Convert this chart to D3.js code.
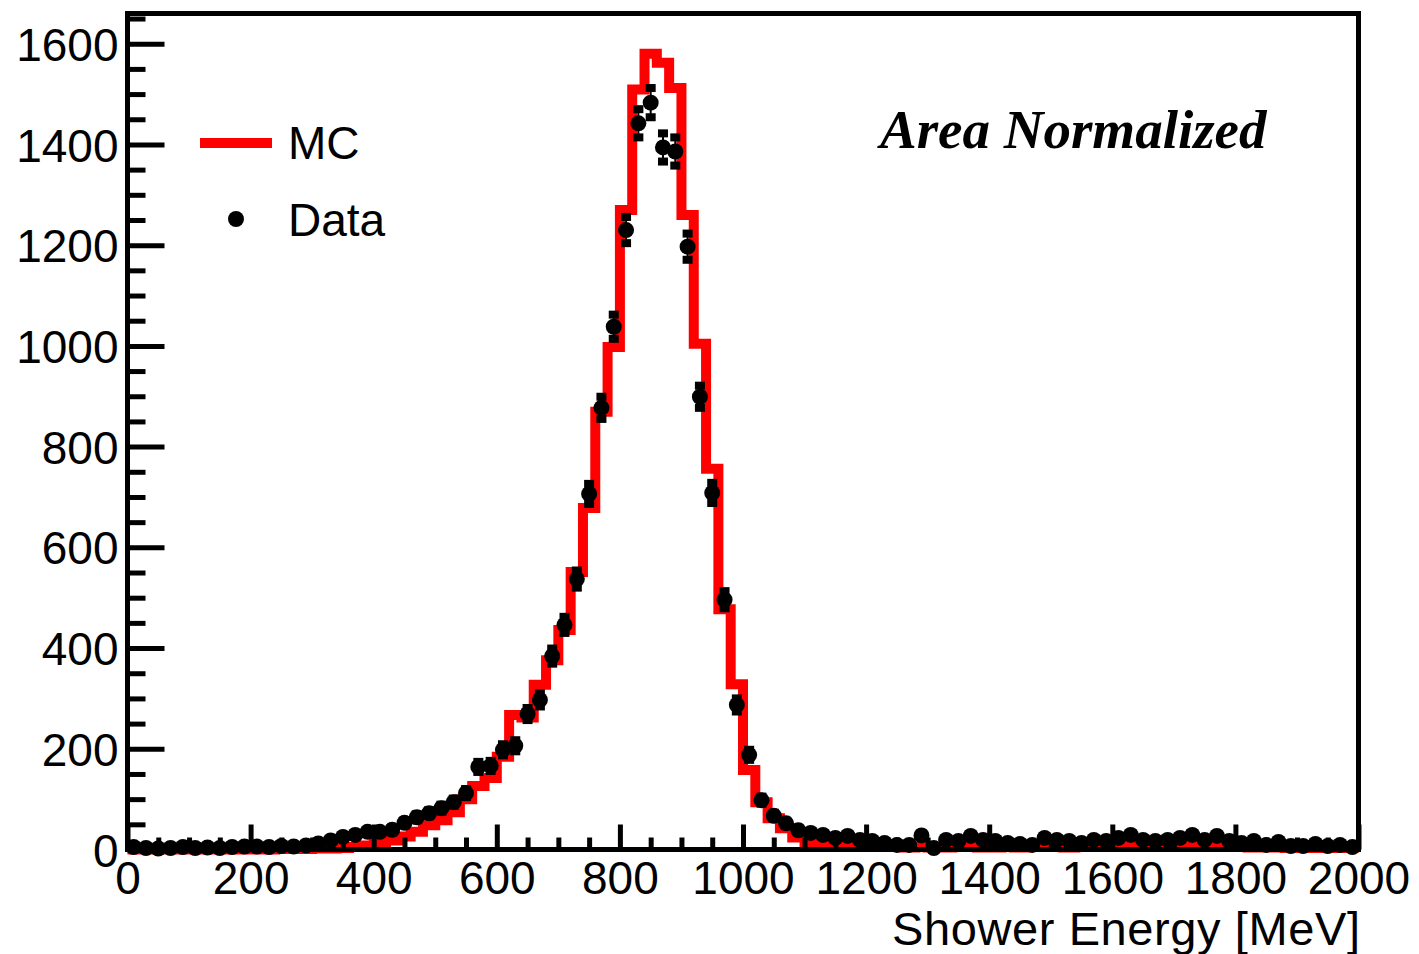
<!DOCTYPE html>
<html>
<head>
<meta charset="utf-8">
<script src="https://cdn.jsdelivr.net/npm/d3@7"></script>
<style>
  html, body { margin: 0; padding: 0; background: #fff; }
  svg { display: block; }
</style>
</head>
<body>
<svg id="chart" width="1419" height="954"></svg>
<script>
// ---------------- data ----------------
// lower edges of the 20 MeV bins
const binLow = [0,20,40,60,80,100,120,140,160,180,200,220,240,260,280,300,320,340,360,380,
  400,420,440,460,480,500,520,540,560,580,600,620,640,660,680,700,720,740,760,780,
  800,820,840,860,880,900,920,940,960,980,1000,1020,1040,1060,1080,1100,1120,1140,1160,1180,
  1200,1220,1240,1260,1280,1300,1320,1340,1360,1380,1400,1420,1440,1460,1480,1500,1520,1540,1560,1580,
  1600,1620,1640,1660,1680,1700,1720,1740,1760,1780,1800,1820,1840,1860,1880,1900,1920,1940,1960,1980];
const binWidth = 20;

// MC histogram contents (area normalized)
const mcValues = [0,0,0,0,0,0,0,0,0,0, 0,0,1,1,1,2,2,3,5,8,
  14,18,26,35,48,58,74,100,126,142, 184,267,262,327,376,436,551,678,869,998,
  1270,1509,1580,1562,1512,1260,1004,756,477,328, 158,94,62,42,24,14,10,9,10,9,
  6,5,5,4,5,4,4,5,5,4, 4,5,4,5,6,5,4,5,6,6, 6,9,8,6,7,8,7,6,6,5, 5,4,4,4,3,3,3,3,3,3];

// Data points and their errors
const dataValues = [5,3,2,3,5,3,4,3,5,6, 6,5,7,6,8,12,18,25,29,35,
  35,39,53,64,72,82,94,112,164,166, 198,206,269,297,384,446,537,706,877,1038,
  1230,1442,1483,1394,1386,1197,899,708,496,287, 188,98,67,52,38,33,29,23,27,19,
  17,13,9,9,28,3,19,17,27,19, 17,13,11,9,23,19,17,13,19,17,
  23,29,19,17,19,23,29,19,27,17, 13,17,9,15,7,7,11,7,9,5];
const dataErrors = [2,1,1,1,2,1,2,1,2,2, 2,2,2,2,2,3,3,4,4,4,
  4,5,5,6,6,7,7,8,10,10, 11,11,12,13,15,16,17,20,22,24,
  26,28,29,28,28,26,22,20,17,13, 10,7,6,5,5,4,4,4,4,3,
  3,3,2,2,4,1,3,3,4,3, 3,3,2,2,4,3,3,3,3,3,
  4,4,3,3,3,4,4,3,4,3, 3,3,2,3,2,2,2,2,2,2];

const xMajorTicks = [0,200,400,600,800,1000,1200,1400,1600,1800,2000];
const yMajorTicks = [0,200,400,600,800,1000,1200,1400,1600];
const xMinorTicks = [50,100,150,250,300,350,450,500,550,650,700,750,850,900,950,1050,1100,1150,
  1250,1300,1350,1450,1500,1550,1650,1700,1750,1850,1900,1950];
const yMinorTicks = [50,100,150,250,300,350,450,500,550,650,700,750,850,900,950,1050,1100,1150,
  1250,1300,1350,1450,1500,1550,1650];

const xTitle = "Shower Energy [MeV]";
const legendLabels = ["MC", "Data"];
const annotation = "Area Normalized";

// ---------------- layout ----------------
const frame = { left: 127.5, right: 1358.5, top: 13.5, bottom: 849.5 };
const svg = d3.select("#chart");
svg.append("rect").attr("width", 1419).attr("height", 954).attr("fill", "#fff");

const x = d3.scaleLinear().domain([0, 2000]).range([frame.left, frame.right]);
const y = d3.scaleLinear().domain([0, 1660]).range([frame.bottom, frame.top]);

const fontSans = "'Liberation Sans', Arial, Helvetica, sans-serif";
const tickW = 5;

// ---------------- MC histogram ----------------
const mcPts = [];
binLow.forEach((lo, i) => {
  mcPts.push([x(lo), y(mcValues[i])]);
  mcPts.push([x(lo + binWidth), y(mcValues[i])]);
});
svg.append("path")
  .attr("d", d3.line()(mcPts))
  .attr("fill", "none")
  .attr("stroke", "#ff0000")
  .attr("stroke-width", 10)
  .attr("stroke-linejoin", "miter");

// ---------------- axes ----------------
const gy = svg.append("g").attr("transform", `translate(${frame.left},0)`);
gy.call(d3.axisLeft(y).tickValues(yMinorTicks).tickSize(-18).tickFormat(""));
gy.call(g => g.selectAll(".tick line").attr("stroke", "#000").attr("stroke-width", tickW));
const gyMaj = svg.append("g").attr("transform", `translate(${frame.left},0)`);
gyMaj.call(d3.axisLeft(y).tickValues(yMajorTicks).tickSize(-37).tickPadding(9).tickFormat(d3.format("d")));
gyMaj.selectAll(".tick line").attr("stroke", "#000").attr("stroke-width", tickW);
gyMaj.selectAll(".tick text").attr("font-family", fontSans).attr("font-size", 46).attr("fill", "#000").attr("dy", "0.36em");
svg.selectAll(".domain").remove();

const gx = svg.append("g").attr("transform", `translate(0,${frame.bottom})`);
gx.call(d3.axisBottom(x).tickValues(xMinorTicks).tickSize(-12).tickFormat(""));
gx.selectAll(".tick line").attr("stroke", "#000").attr("stroke-width", tickW);
const gxMaj = svg.append("g").attr("transform", `translate(0,${frame.bottom})`);
gxMaj.call(d3.axisBottom(x).tickValues(xMajorTicks).tickSize(-25).tickPadding(12).tickFormat(d3.format("d")));
gxMaj.selectAll(".tick line").attr("stroke", "#000").attr("stroke-width", tickW);
gxMaj.selectAll(".tick text").attr("font-family", fontSans).attr("font-size", 46).attr("fill", "#000");
svg.selectAll(".domain").remove();

// frame
svg.append("rect")
  .attr("x", frame.left).attr("y", frame.top)
  .attr("width", frame.right - frame.left).attr("height", frame.bottom - frame.top)
  .attr("fill", "none").attr("stroke", "#000").attr("stroke-width", 5);

// ---------------- data points ----------------
const gd = svg.append("g");
binLow.forEach((lo, i) => {
  const cx = x(lo + binWidth / 2);
  const v = dataValues[i], e = dataErrors[i];
  gd.append("line")
    .attr("x1", cx).attr("x2", cx)
    .attr("y1", y(v + e)).attr("y2", y(v - e))
    .attr("stroke", "#000").attr("stroke-width", 2);
  [v + e, v - e].forEach(ev => {
    gd.append("rect")
      .attr("x", cx - 5).attr("y", y(ev) - 4)
      .attr("width", 10).attr("height", 8)
      .attr("fill", "#000");
  });
});
binLow.forEach((lo, i) => {
  gd.append("circle")
    .attr("cx", x(lo + binWidth / 2)).attr("cy", y(dataValues[i]))
    .attr("r", 8).attr("fill", "#000");
});

// ---------------- titles / legend ----------------
svg.append("text")
  .attr("x", 1360).attr("y", 945)
  .attr("text-anchor", "end")
  .attr("font-family", fontSans).attr("font-size", 47)
  .attr("textLength", 468).attr("lengthAdjust", "spacing")
  .text(xTitle);

svg.append("line")
  .attr("x1", 200).attr("x2", 272).attr("y1", 143).attr("y2", 143)
  .attr("stroke", "#ff0000").attr("stroke-width", 10);
svg.append("text").attr("x", 288).attr("y", 159)
  .attr("font-family", fontSans).attr("font-size", 46).text(legendLabels[0]);
svg.append("circle").attr("cx", 236).attr("cy", 219).attr("r", 8).attr("fill", "#000");
svg.append("text").attr("x", 288).attr("y", 236)
  .attr("font-family", fontSans).attr("font-size", 46).text(legendLabels[1]);

svg.append("text")
  .attr("x", 880).attr("y", 148)
  .attr("font-family", "'Liberation Serif', 'Times New Roman', serif")
  .attr("font-style", "italic").attr("font-weight", "bold")
  .attr("font-size", 55)
  .text(annotation);
</script>
</body>
</html>
